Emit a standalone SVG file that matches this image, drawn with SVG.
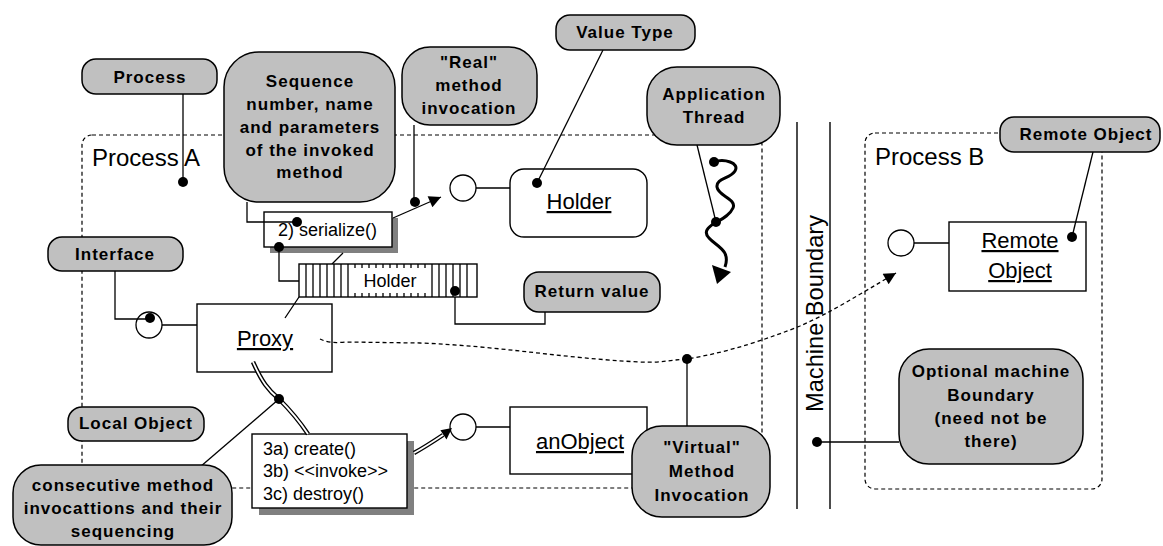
<svg xmlns="http://www.w3.org/2000/svg" width="1163" height="546" viewBox="0 0 1163 546">
  <style>
    text { font-family: "Liberation Sans", Arial, sans-serif; fill: #000; }
    .note rect, .note path { fill: #c0c0c0; stroke: #000; stroke-width: 1.5; }
    .note text { font-weight: bold; font-size: 17px; letter-spacing: 1px; text-anchor: middle; }
    .box { fill: #fff; stroke: #000; stroke-width: 1.4; }
    .shadow { fill: #808080; stroke: none; }
    .name { font-size: 22px; text-anchor: middle; text-decoration: underline; }
    .msg { font-size: 18px; }
    .area { fill: none; stroke: #000; stroke-width: 1.2; stroke-dasharray: 4 3; }
    .label { font-size: 24px; }
    .wire { fill: none; stroke: #000; stroke-width: 1.3; }
    .dot { fill: #000; }
    .lolli { fill: #fff; stroke: #000; stroke-width: 1.3; }
  </style>
  <defs>
    <marker id="head" viewBox="0 0 10 10" refX="10" refY="5" markerUnits="userSpaceOnUse" markerWidth="15" markerHeight="12" orient="auto">
      <path d="M0,0 L10,5 L0,10 z" fill="#000"/>
    </marker>
  </defs>

  <rect width="1163" height="546" fill="#fff"/>

  <!-- process areas -->
  <g id="processA">
    <rect class="area" x="82" y="135" width="680" height="353" rx="10"/>
    <text class="label" x="92" y="166">Process A</text>
  </g>
  <g id="processB">
    <rect class="area" x="865" y="133" width="237" height="356" rx="10"/>
    <text class="label" x="875" y="165">Process B</text>
  </g>

  <!-- machine boundary -->
  <g id="machineBoundary">
    <line x1="797" y1="122" x2="797" y2="509" stroke="#000" stroke-width="1.4"/>
    <line x1="830" y1="122" x2="830" y2="509" stroke="#000" stroke-width="1.4"/>
    <text transform="translate(823,313.5) rotate(-90)" font-size="24" text-anchor="middle" textLength="197" lengthAdjust="spacingAndGlyphs">Machine Boundary</text>
  </g>

  <!-- objects -->
  <g id="holderValue">
    <rect class="box" x="510" y="169" width="137" height="68" rx="14"/>
    <text class="name" x="579" y="209">Holder</text>
  </g>
  <g id="proxy">
    <rect class="box" x="197" y="304" width="135" height="68"/>
    <text class="name" x="265" y="346">Proxy</text>
  </g>
  <g id="anObject">
    <rect class="box" x="510" y="407" width="137" height="67"/>
    <text class="name" x="580" y="449">anObject</text>
  </g>
  <g id="remoteObject">
    <rect class="box" x="949" y="222" width="137" height="69"/>
    <text class="name" x="1020" y="248">Remote</text>
    <text class="name" x="1020" y="278">Object</text>
  </g>

  <!-- messages -->
  <g id="serialize">
    <rect class="shadow" x="270" y="218" width="128" height="35"/>
    <rect class="box" x="264" y="212" width="128" height="35"/>
    <text class="msg" x="278" y="236">2) serialize()</text>
  </g>
  <g id="invocations">
    <rect class="shadow" x="259" y="441" width="155" height="74"/>
    <rect class="box" x="252" y="434" width="155" height="74"/>
    <text class="msg" x="263" y="455">3a) create()</text>
    <text class="msg" x="263" y="477">3b) &lt;&lt;invoke&gt;&gt;</text>
    <text class="msg" x="263" y="500">3c) destroy()</text>
  </g>

  <!-- lollipop interfaces -->
  <g id="interfaces">
    <circle class="lolli" cx="149" cy="325" r="13"/>
    <circle class="lolli" cx="463" cy="188" r="13"/>
    <circle class="lolli" cx="463" cy="427" r="13"/>
    <circle class="lolli" cx="901" cy="243" r="13"/>
  </g>

  <!-- connectors -->
  <g id="connectors">
    <!-- interface stems -->
    <path class="wire" d="M162,325 H197 M476,188 H510 M476,427 H510 M914,243 H949"/>
    <!-- proxy to serialize, passing behind the queue -->
    <path class="wire" d="M285,318 L299,297 M332,264 L343,253"/>
    <!-- serialize to queue -->
    <path class="wire" d="M279,247 V281 H299"/>
    <!-- real method call -->
    <path class="wire" d="M393,218 L441,197" marker-end="url(#head)"/>
    <!-- virtual call across machines -->
    <path class="wire" stroke-dasharray="4 3" d="M320,339 Q330,344 345,342 L420,343 C500,346 560,358 640,362 C660,363 670,360 687,359 C730,352 770,338 800,326 C830,313 860,294 896,273" marker-end="url(#head)"/>
    <!-- sequenced invocations (double line) -->
    <path d="M253,362 C262,382 268,390 279,399 C290,410 300,422 308,434" fill="none" stroke="#000" stroke-width="4.5"/>
    <path d="M253,362 C262,382 268,390 279,399 C290,410 300,422 308,434" fill="none" stroke="#fff" stroke-width="1.8"/>
    <path d="M414,453 C425,447 434,441 443,435" fill="none" stroke="#000" stroke-width="4.5"/>
    <path d="M414,453 C425,447 434,441 443,435" fill="none" stroke="#fff" stroke-width="1.8"/>
    <polygon points="452,428 446.5,439.4 440.4,430.2" fill="#000"/>
    <!-- application thread -->
    <path d="M714,162 C724,158 740,163 735,171 C730,179 716,178 717,187 C718,196 737,199 733,208 C730,215 722,219 715,223 C708,227 703,232 709,238 C716,246 731,250 725,267" fill="none" stroke="#000" stroke-width="3"/>
    <polygon points="712,265 731,272 717,284" fill="#000"/>
    <!-- note leaders -->
    <path class="wire" d="M183,94 V182"/>
    <path class="wire" d="M247,202 V222 H297"/>
    <path class="wire" d="M414,125 V202"/>
    <path class="wire" d="M603,50 L537,183"/>
    <path class="wire" d="M697,145 L716,222"/>
    <path class="wire" d="M1093,152 L1072,237"/>
    <path class="wire" d="M115,271 V319 H150"/>
    <path class="wire" d="M545,312 V324 H455 V291"/>
    <path class="wire" d="M200,467 L279,399"/>
    <path class="wire" d="M687,359 V426"/>
    <path class="wire" d="M817,442 H899"/>
    <!-- attachment dots -->
    <circle class="dot" cx="183" cy="182" r="5"/>
    <circle class="dot" cx="297" cy="222" r="5"/>
    <circle class="dot" cx="415" cy="202" r="5"/>
    <circle class="dot" cx="537" cy="183" r="5"/>
    <circle class="dot" cx="714" cy="162" r="5"/>
    <circle class="dot" cx="716" cy="222" r="5"/>
    <circle class="dot" cx="1072" cy="237" r="5"/>
    <circle class="dot" cx="279" cy="247" r="5"/>
    <circle class="dot" cx="150" cy="318" r="5"/>
    <circle class="dot" cx="279" cy="399" r="5"/>
    <circle class="dot" cx="687" cy="359" r="5"/>
    <circle class="dot" cx="817" cy="442" r="5"/>
  </g>

  <!-- queue of holders -->
  <g id="holderQueue">
    <rect class="box" x="299" y="264" width="178" height="33"/>
    <path class="wire" d="M306,264 V297 M313,264 V297 M320,264 V297 M327,264 V297 M334,264 V297 M341,264 V297 M348,264 V297 M355,264 V297 M362,264 V297 M369,264 V297 M376,264 V297 M383,264 V297 M390,264 V297 M397,264 V297 M404,264 V297 M411,264 V297 M418,264 V297 M425,264 V297 M432,264 V297 M439,264 V297 M446,264 V297 M453,264 V297 M460,264 V297 M467,264 V297"/>
    <rect x="350" y="268" width="76" height="25" fill="#fff"/>
    <text class="msg" x="390" y="287" text-anchor="middle">Holder</text>
    <circle class="dot" cx="455" cy="291" r="5"/>
  </g>

  <!-- notes -->
  <g id="noteProcess" class="note">
    <rect x="82" y="59" width="135" height="35" rx="14"/>
    <text x="150" y="83">Process</text>
  </g>
  <g id="noteSequence" class="note">
    <rect x="224" y="52" width="171" height="150" rx="35"/>
    <text x="310" y="87">Sequence</text>
    <text x="310" y="110">number, name</text>
    <text x="310" y="133">and parameters</text>
    <text x="310" y="156">of the invoked</text>
    <text x="310" y="178">method</text>
  </g>
  <g id="noteReal" class="note">
    <rect x="402" y="47" width="135" height="78" rx="28"/>
    <text x="469" y="68">"Real"</text>
    <text x="469" y="91">method</text>
    <text x="469" y="114">invocation</text>
  </g>
  <g id="noteValueType" class="note">
    <rect x="556" y="15" width="139" height="35" rx="14"/>
    <text x="625" y="38">Value Type</text>
  </g>
  <g id="noteThread" class="note">
    <rect x="647" y="67" width="133" height="78" rx="30"/>
    <text x="714" y="100">Application</text>
    <text x="714" y="123">Thread</text>
  </g>
  <g id="noteRemote" class="note">
    <rect x="1000" y="117" width="160" height="35" rx="14"/>
    <text x="1086" y="140">Remote Object</text>
  </g>
  <g id="noteInterface" class="note">
    <rect x="48" y="237" width="135" height="34" rx="14"/>
    <text x="115" y="260">Interface</text>
  </g>
  <g id="noteReturn" class="note">
    <rect x="524" y="272" width="136" height="40" rx="15"/>
    <text x="592" y="297">Return value</text>
  </g>
  <g id="noteLocal" class="note">
    <rect x="68" y="407" width="136" height="34" rx="14"/>
    <text x="136" y="429">Local Object</text>
  </g>
  <g id="noteSequencing" class="note">
    <rect x="13" y="465" width="219" height="80" rx="28"/>
    <text x="123" y="491">consecutive method</text>
    <text x="123" y="514">invocattions and their</text>
    <text x="123" y="537">sequencing</text>
  </g>
  <g id="noteVirtual" class="note">
    <rect x="632" y="426" width="138" height="91" rx="30"/>
    <text x="702" y="453">"Virtual"</text>
    <text x="702" y="477">Method</text>
    <text x="702" y="501">Invocation</text>
  </g>
  <g id="noteOptional" class="note">
    <rect x="899" y="349" width="184" height="115" rx="30"/>
    <text x="991" y="377">Optional machine</text>
    <text x="991" y="401">Boundary</text>
    <text x="991" y="424">(need not be</text>
    <text x="991" y="447">there)</text>
  </g>
</svg>
